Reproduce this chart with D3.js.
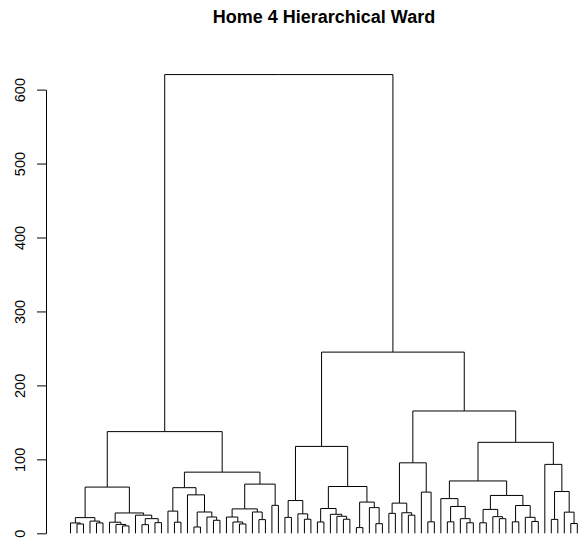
<!DOCTYPE html>
<html>
<head>
<meta charset="utf-8">
<script src="https://cdn.jsdelivr.net/npm/d3@7"></script>
<style>
  html, body { margin: 0; padding: 0; background: #fff; }
  svg { display: block; }
</style>
</head>
<body>
<script>
// ---- Data (hclust-style merge table: negative = leaf number, positive = earlier merge row) ----
const title = "Home 4 Hierarchical Ward";
const nLeaves = 79;
const merges = [
  [-2,-3],[-1,1],[-5,-6],[-4,3],[2,4],
  [-9,-10],[-8,6],[-7,7],[-12,-13],[-14,-15],
  [9,10],[-11,11],[8,12],[5,13],[-17,-18],
  [-16,15],[-20,-21],[-23,-24],[-22,18],[17,19],
  [-19,20],[16,21],[-27,-28],[-26,23],[-25,24],
  [-30,-31],[-29,26],[25,27],[-32,-33],[28,29],
  [22,30],[14,31],[-34,-35],[-37,-38],[-36,34],
  [33,35],[-39,-40],[-43,-44],[-42,38],[-41,39],
  [37,40],[-45,-46],[-48,-49],[-47,43],[42,44],
  [41,45],[36,46],[-50,-51],[-53,-54],[-52,49],
  [48,50],[-56,-57],[-55,52],[51,53],[-59,-60],
  [-62,-63],[-61,56],[55,57],[-58,58],[-64,-65],
  [-67,-68],[-66,61],[60,62],[-69,-70],[-72,-73],
  [-71,65],[64,66],[63,67],[59,68],[-75,-76],
  [-78,-79],[-77,71],[70,72],[-74,73],[69,74],
  [54,75],[47,76],[32,77]
];
const heights = [
  12.6, 14, 14, 16.5, 21.2,
  10, 12, 15, 11.7, 14.4,
  19.8, 24.5, 27.5, 62.5, 15,
  30, 8.5, 17.6, 22, 28.8,
  52, 61.7, 12.6, 15.3, 22,
  18.5, 28.8, 33, 37.8, 66.5,
  82.7, 137.5, 21.5, 19, 26.3,
  44.3, 15.3, 19, 23, 25.7,
  33.5, 7.7, 13, 34.7, 42.2,
  63.3, 117.5, 27, 24.5, 27.8,
  40.8, 15.5, 55.7, 95.3, 15.5,
  14.2, 19.8, 36.3, 46.9, 14.2,
  19.8, 22.5, 32.3, 15.5, 16,
  21.6, 37.6, 51.2, 70.8, 18.8,
  13.2, 28.6, 56.5, 93.2, 123,
  165.4, 245, 620.3
];
const yTicks = [0, 100, 200, 300, 400, 500, 600];

// ---- Layout ----
const W = 579, H = 540;
const axisX = 46;
const font = "'Liberation Sans', Arial, Helvetica, sans-serif";

const svg = d3.select("body").append("svg").attr("width", W).attr("height", H);

const x = d3.scaleLinear().domain([1, nLeaves]).range([70.5, 577.3]);
const y = d3.scaleLinear().domain([0, 600]).range([533.3, 89.6]);

function build(k) {
  if (k < 0) return { leaf: -k, h: 0 };
  const [a, b] = merges[k - 1];
  return { h: heights[k - 1], children: [build(a), build(b)] };
}
const root = d3.hierarchy(build(merges.length));
root.leaves().forEach((leaf, i) => { leaf.x = x(i + 1); });
root.eachAfter(n => { if (n.children) n.x = d3.mean(n.children, c => c.x); });

// ---- Dendrogram segments ----
svg.append("g")
  .attr("fill", "none")
  .attr("stroke", "#000")
  .attr("stroke-width", 1)
  .selectAll("path")
  .data(root.descendants().filter(d => d.parent))
  .join("path")
  .attr("d", d => `M${d.x},${y(d.data.h)}V${y(d.parent.data.h)}H${d.parent.x}`);

// ---- Y axis ----
const axis = svg.append("g")
  .attr("transform", `translate(${axisX},0)`)
  .call(d3.axisLeft(y).tickValues(yTicks).tickSize(9).tickSizeOuter(0).tickFormat(d3.format("d")));
axis.select(".domain").attr("stroke", "#000");
axis.selectAll(".tick line").attr("stroke", "#000");
axis.selectAll(".tick text")
  .attr("transform", "rotate(-90)")
  .attr("x", 0)
  .attr("y", -21)
  .attr("dy", 0)
  .attr("text-anchor", "middle")
  .attr("fill", "#000")
  .style("font-family", font)
  .style("font-size", "14.5px");

// ---- Title ----
svg.append("text")
  .attr("x", 324)
  .attr("y", 22.7)
  .attr("text-anchor", "middle")
  .style("font-family", font)
  .style("font-weight", "bold")
  .style("font-size", "18px")
  .attr("fill", "#000")
  .text(title);
</script>
</body>
</html>
